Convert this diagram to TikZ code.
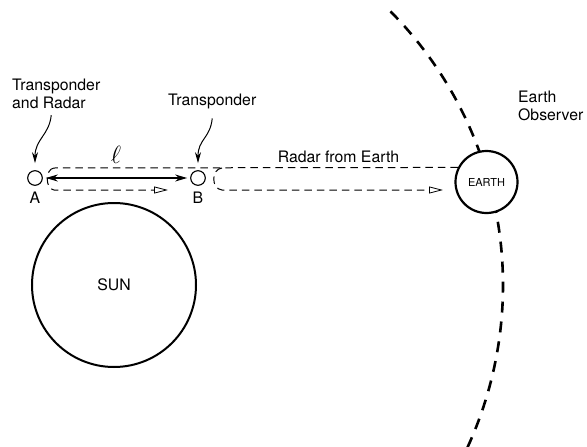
\documentclass[tikz,border=0pt]{standalone}
\usepackage{fontspec}
\setmainfont{TeX Gyre Heros}
\usetikzlibrary{arrows.meta,calc}
\begin{document}
\begin{tikzpicture}[x=1pt,y=1pt,
  lbl/.style={font=\fontsize{15.8}{18}\selectfont, inner sep=0pt},
  body/.style={circle, draw, line width=2pt, fill=white, inner sep=0pt},
  probe/.style={circle, draw, line width=1.1pt, minimum size=14.6pt, inner sep=0pt, fill=white},
  signal/.style={line width=1pt, dash pattern=on 7.5pt off 5pt},
  opentip/.style={-{Triangle[open,length=14pt,width=7pt,line width=0.8pt]}},
  ptr/.style={line width=1pt, -{Stealth[length=11pt,width=6pt]}},
  orbit/.style={line width=2.6pt, dash pattern=on 11pt off 9pt},
  rod/.style={line width=1.1pt, {Stealth[length=12pt,width=7pt]}-{Stealth[length=12pt,width=7pt]}, shorten <=3pt, shorten >=3pt}
]
\useasboundingbox (0,0) rectangle (587,-447);

% Sun
\node[body, minimum size=164pt, font=\fontsize{15.8}{18}\selectfont] (S) at (114,-285) {SUN};

% Earth orbit
\draw[orbit] (S.center) ++(44.7:389) arc[start angle=44.7, end angle=-25, radius=389];

% Earth
\node[body, line width=2.2pt, minimum size=62pt, font=\fontsize{11}{13}\selectfont] (E) at (486.5,-182) {EARTH};

% spacecraft
\node[probe] (A) at (35,-178) {};
\node[probe] (B) at (198,-178) {};
\node[lbl, anchor=base] (Alab) at (35,-203) {A};
\node[lbl, anchor=base] (Blab) at (198,-203) {B};

% labels
\node[lbl, anchor=north west, align=left] (L1) at (12,-79) {Transponder\\and Radar};
\node[lbl, anchor=base west] (L2) at (168,-105.7) {Transponder};
\node[lbl, anchor=base] (R) at (338.5,-162.7) {Radar from Earth};
\node[lbl, anchor=base west, align=left] (Obs) at (518,-120) {Earth\\Observer};
\node[font=\fontsize{24}{26}\selectfont, inner sep=0pt] (ell) at (116,-155) {$\ell$};

% pointers
\draw[ptr] ([xshift=-5pt,yshift=-6pt]L1.south) .. controls ++(-2,-20) and ++(0,24) .. ([yshift=7pt]A.north);
\draw[ptr] ([yshift=-9pt]L2.south) .. controls ++(-2,-20) and ++(0,24) .. ([yshift=7pt]B.north);

% distance rod
\draw[rod] (A) -- (B);

% radar signals
\coordinate (a1) at (54,-168);
\coordinate (a2) at (54,-190);
\coordinate (a3) at (168,-190);
\coordinate (b1) at (222,-168);
\coordinate (b2) at (222,-190);
\coordinate (b3) at (443,-190);
\draw[signal] (E.153.2) -- (a1);
\draw[signal, opentip] (a1) .. controls (45,-169) and (45,-189) .. (a2) -- (a3);
\draw[signal, opentip] (b1) .. controls (211,-169) and (211,-189) .. (b2) -- (b3);
\end{tikzpicture}
\end{document}
